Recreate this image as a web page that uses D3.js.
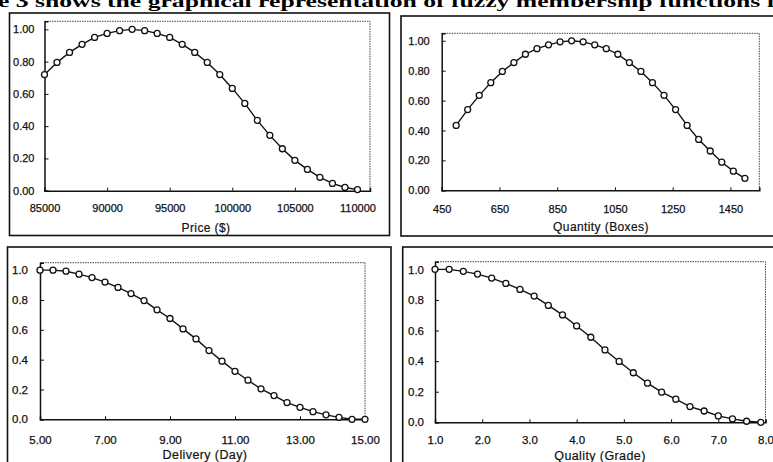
<!DOCTYPE html>
<html>
<head>
<meta charset="utf-8">
<script src="https://cdn.jsdelivr.net/npm/d3@7"></script>
<style>
  body { margin: 0; background: #fff; }
  svg { display: block; }
  .tick text { font-family: "Liberation Sans", Arial, sans-serif; fill: #111; stroke: #111; stroke-width: 0.25px; }
</style>
</head>
<body>
<svg id="fig" width="773" height="462"></svg>
<script>
// membership function values
var priceX = [85000, 86000, 87000, 88000, 89000, 90000, 91000, 92000, 93000, 94000, 95000, 96000, 97000,
              98000, 99000, 100000, 101000, 102000, 103000, 104000, 105000, 106000, 107000, 108000, 109000, 110000];
var priceY = [0.72, 0.795, 0.857, 0.907, 0.95, 0.975, 0.992, 1.0, 0.992, 0.975, 0.95, 0.907, 0.857,
              0.795, 0.72, 0.634, 0.541, 0.436, 0.343, 0.26, 0.188, 0.132, 0.083, 0.045, 0.02, 0.007];

var qtyX = [500, 540, 580, 620, 660, 700, 740, 780, 820, 860, 900, 940, 980,
            1020, 1060, 1100, 1140, 1180, 1220, 1260, 1300, 1340, 1380, 1420, 1460, 1500];
var qtyY = [0.434, 0.54, 0.635, 0.72, 0.795, 0.854, 0.91, 0.947, 0.973, 0.993, 1.0, 0.993, 0.973,
            0.947, 0.91, 0.854, 0.795, 0.72, 0.635, 0.54, 0.434, 0.34, 0.263, 0.188, 0.128, 0.08];

var dayX = [5.0, 5.4, 5.8, 6.2, 6.6, 7.0, 7.4, 7.8, 8.2, 8.6, 9.0, 9.4, 9.8,
            10.2, 10.6, 11.0, 11.4, 11.8, 12.2, 12.6, 13.0, 13.4, 13.8, 14.2, 14.6, 15.0];
var dayY = [1.0, 1.0, 0.993, 0.973, 0.95, 0.92, 0.884, 0.843, 0.796, 0.734, 0.676, 0.606, 0.539,
            0.461, 0.39, 0.322, 0.262, 0.204, 0.159, 0.112, 0.08, 0.051, 0.03, 0.013, 0.0, 0.0];

var gradeX = [1.0, 1.3, 1.6, 1.9, 2.2, 2.5, 2.8, 3.1, 3.4, 3.7, 4.0, 4.3,
              4.6, 4.9, 5.2, 5.5, 5.8, 6.1, 6.4, 6.7, 7.0, 7.3, 7.6, 7.9];
var gradeY = [1.0, 1.0, 0.987, 0.969, 0.943, 0.908, 0.869, 0.825, 0.764, 0.702, 0.63, 0.556,
              0.473, 0.398, 0.324, 0.256, 0.197, 0.151, 0.103, 0.074, 0.042, 0.022, 0.007, 0.0];

var priceTicks = [85000, 90000, 95000, 100000, 105000, 110000];
var qtyTicks = [450, 650, 850, 1050, 1250, 1450];
var dayTicks = [5, 7, 9, 11, 13, 15];
var gradeTicks = [1, 2, 3, 4, 5, 6, 7, 8];
var yTicks = [0, 0.2, 0.4, 0.6, 0.8, 1.0];

var svg = d3.select("#fig");

// caption line, cut off at the top of the scan like the source
svg.append("text")
    .attr("x", -2)
    .attr("y", 7)
    .attr("textLength", 790)
    .attr("lengthAdjust", "spacingAndGlyphs")
    .style("font-family", "'Liberation Serif', 'Times New Roman', serif")
    .style("font-weight", "bold")
    .style("font-size", "17px")
    .text("e 3 shows the graphical representation of fuzzy membership functions fo");

var panels = [
  { xs: priceX, ys: priceY, xDom: [85000, 111000], ticks: priceTicks, xFmt: d3.format("d"), yFmt: d3.format(".2f"),
    title: "Price ($)", box: [9.5, 13, 389.5, 235.5], plot: [44.5, 21.3, 370, 190.7],
    titleX: 206, titleY: 232, tickY: 17, yPad: 6, fs: 11, tfs: 12 },
  { xs: qtyX, ys: qtyY, xDom: [450, 1550], ticks: qtyTicks, xFmt: d3.format("d"), yFmt: d3.format(".2f"),
    title: "Quantity (Boxes)", box: [401, 16, 790, 236], plot: [441.7, 33.3, 759.3, 190.3],
    titleX: 601, titleY: 231, tickY: 18, yPad: 8, fs: 11, tfs: 12 },
  { xs: dayX, ys: dayY, xDom: [5, 15], ticks: dayTicks, xFmt: d3.format(".2f"), yFmt: d3.format(".1f"),
    title: "Delivery (Day)", box: [7.5, 247, 391, 480], plot: [40, 262.7, 365, 419.3],
    titleX: 205, titleY: 459, tickY: 20, yPad: 8, fs: 11.5, tfs: 12.5 },
  { xs: gradeX, ys: gradeY, xDom: [1, 8], ticks: gradeTicks, xFmt: d3.format(".1f"), yFmt: d3.format(".1f"),
    title: "Quality (Grade)", box: [402.7, 247, 790, 480], plot: [435, 261.7, 765.5, 422.3],
    titleX: 600, titleY: 460, tickY: 17, yPad: 7, fs: 11.5, tfs: 12.5 }
];

panels.forEach(function (p) {
  var g = svg.append("g");
  var L = p.plot[0], T = p.plot[1], R = p.plot[2], B = p.plot[3];

  var x = d3.scaleLinear().domain(p.xDom).range([L, R]);
  var y = d3.scaleLinear().domain([0, 1.05]).range([B, T]);

  // outer chart frame
  g.append("rect")
      .attr("x", p.box[0]).attr("y", p.box[1])
      .attr("width", p.box[2] - p.box[0]).attr("height", p.box[3] - p.box[1])
      .attr("fill", "none").attr("stroke", "#111").attr("stroke-width", 1.6);

  // dotted plot-area border (top and right)
  g.append("path")
      .attr("d", "M" + L + "," + T + "H" + R + "V" + B)
      .attr("fill", "none").attr("stroke", "#444").attr("stroke-width", 1)
      .attr("stroke-dasharray", "1.5,1");

  var xAxis = d3.axisBottom(x).tickValues(p.ticks).tickFormat(p.xFmt).tickSize(-3).tickPadding(p.tickY - 3);
  var yAxis = d3.axisLeft(y).tickValues(yTicks).tickFormat(p.yFmt).tickSize(-4).tickPadding(p.yPad + 4);

  var gx = g.append("g").attr("transform", "translate(0," + B + ")").call(xAxis);
  var gy = g.append("g").attr("transform", "translate(" + L + ",0)").call(yAxis);
  [gx, gy].forEach(function (a) {
    a.select(".domain").attr("stroke", "#111").attr("stroke-width", 1.5);
    a.selectAll(".tick line").attr("stroke", "#111").attr("stroke-width", 1);
    a.selectAll(".tick text").style("font-size", p.fs + "px");
  });

  g.append("text")
      .attr("x", p.titleX).attr("y", p.titleY)
      .attr("text-anchor", "middle")
      .style("font-family", "'Liberation Sans', Arial, sans-serif")
      .style("font-size", p.tfs + "px")
      .style("letter-spacing", "0.4px")
      .attr("fill", "#111")
      .attr("stroke", "#111")
      .attr("stroke-width", 0.2)
      .text(p.title);

  var pts = p.xs.map(function (v, i) { return [v, p.ys[i]]; });

  g.append("path")
      .datum(pts)
      .attr("fill", "none").attr("stroke", "#111").attr("stroke-width", 1.4)
      .attr("d", d3.line().x(function (d) { return x(d[0]); }).y(function (d) { return y(d[1]); }));

  g.selectAll("circle")
      .data(pts)
      .enter()
      .append("circle")
      .attr("cx", function (d) { return x(d[0]); })
      .attr("cy", function (d) { return y(d[1]); })
      .attr("r", 3)
      .attr("fill", "#fff")
      .attr("stroke", "#111")
      .attr("stroke-width", 1.3);
});
</script>
</body>
</html>
